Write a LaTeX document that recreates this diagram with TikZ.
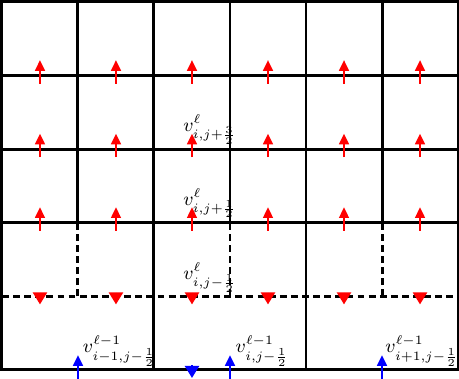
\documentclass[tikz,border=0pt]{standalone}
\usepackage{xcolor}
\usepackage{tikz}
\usepackage{amsmath}
\usetikzlibrary{
  arrows.meta,
  positioning
}
\definecolor{fvRed}{HTML}{FF0000}
\definecolor{fvBlue}{HTML}{0000FF}
\tikzset{
  cellline/.style={line width=1.4pt, black},
  coarseline/.style={cellline, dash pattern=on 3.2pt off 2pt},
  upflux/.style={-{Triangle[length=5pt, width=4.6pt]}, line width=0.9pt},
  downflux/.style={-{Triangle[length=5.6pt, width=6.6pt]}, line width=0.9pt},
  vlabel/.style={anchor=south west, inner sep=0pt, font=\fontsize{9.2}{11}\selectfont}
}

\begin{document}
\begin{tikzpicture}[x=1.25cm, y=1.21cm]
  \useasboundingbox (-0.026,-0.122) rectangle (6.013,5.027);
  % fine grid
  \draw[cellline] (0,0) rectangle (6,5);
  \foreach \y in {2,3,4} \draw[cellline] (0,\y) -- (6,\y);
  \foreach \x in {1,...,5} \draw[cellline] (\x,2) -- (\x,5);
  \foreach \x in {2,4} \draw[cellline] (\x,0) -- (\x,2);
  % coarse cells
  \draw[coarseline] (0,1) -- (6,1);
  \foreach \x in {1,3,5} \draw[coarseline] (\x,1) -- (\x,2);
  % level l velocities
  \foreach \x in {0.5,1.5,...,5.5} {
    \foreach \y in {2,3,4} \draw[upflux, fvRed] ({\x},{\y-0.11}) -- ({\x},{\y+0.21});
    \draw[downflux, fvRed] ({\x},1.05) -- ({\x},0.89);
  }
  % level l-1 velocities
  \foreach \x in {1,3,5} \draw[upflux, fvBlue] (\x,-0.13) -- (\x,0.2);
  \draw[downflux, fvBlue] (2.5,0.06) -- (2.5,-0.11);
  \node[vlabel] (vjthree) at (2.38,3.06) {$v^{\ell}_{i,j+\frac{3}{2}}$};
  \node[vlabel] (vjone) at (2.38,2.06) {$v^{\ell}_{i,j+\frac{1}{2}}$};
  \node[vlabel] (vjm) at (2.38,1.05) {$v^{\ell}_{i,j-\frac{1}{2}}$};
  \node[vlabel] (vcleft) at (1.06,0.04) {$v^{\ell-1}_{i-1,j-\frac{1}{2}}$};
  \node[vlabel] (vcmid) at (3.07,0.04) {$v^{\ell-1}_{i,j-\frac{1}{2}}$};
  \node[vlabel] (vcright) at (5.04,0.04) {$v^{\ell-1}_{i+1,j-\frac{1}{2}}$};
\end{tikzpicture}
\end{document}
